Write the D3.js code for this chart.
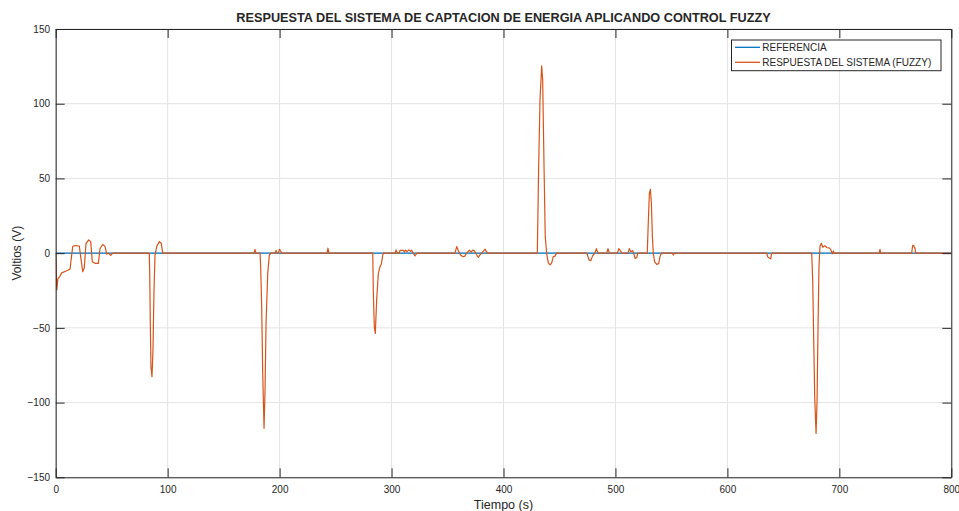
<!DOCTYPE html>
<html>
<head>
<meta charset="utf-8">
<script src="https://cdn.jsdelivr.net/npm/d3@7"></script>
<style>
  html, body { margin: 0; padding: 0; background: #ffffff; }
  svg { display: block; }
  text { font-family: "Liberation Sans", Arial, Helvetica, sans-serif; fill: #262626; }
</style>
</head>
<body>
<svg id="chart" width="959" height="511"></svg>
<script>
// Tiempo (s) y tensión de respuesta del sistema con control fuzzy (V)
const tiempo = [
  0, 1.0, 2.0, 3.8, 5.3, 9.8, 12.8, 14.0, 15.2, 17.2, 21.1, 22.3, 24.1, 25.5, 27.1, 29.5, 31.3, 32.7, 35.1, 38.1,
  39.6, 42, 44, 45.6, 47, 49.1, 51,
  83.6, 84, 84.5, 85.1, 86, 86.9, 87.8, 88.7, 90.2, 92.6, 94.3, 95.6,
  177.2, 178, 178.8,
  182.5, 183.1, 184, 184.9, 186.1, 187, 187.9, 189.4, 190.8, 192,
  196, 196.8, 198, 199, 199.8, 201, 202,
  242.5, 243.2, 244,
  283.2, 283.7, 284.6, 285.5, 286.7, 288.2, 289.7, 290.9, 292.1, 292.7,
  303.2, 304, 305.2, 307, 307.5, 310.5, 311.5, 312.5, 314, 315.5, 317, 318, 319.4, 321, 322.5,
  356.7, 358.2, 360.6, 362, 364.1, 365.5, 367, 369.5, 371, 372.5, 374, 376, 377.5, 379, 380.5, 383.5, 385.5,
  430.2, 431.4, 432.6, 434.1, 435, 436.2, 437.3, 438.6, 440.1, 441.6, 443, 444.5, 446, 447.4,
  474.5, 476.4, 478, 479.5, 481.5, 483, 484.5,
  492.3, 493.3, 494.5,
  501.8, 503, 504.5, 506,
  511.2, 512.4, 513.8, 515.4, 516.3, 517.5, 519, 520,
  528.4, 529.4, 530.3, 531.2, 532.1, 533, 533.8, 535, 536.9, 538.6, 539.8, 541,
  550.8, 551.7, 552.6,
  635.1, 636, 637.4, 638.7, 639.5,
  675.3, 676.2, 677.1, 678, 679.2, 680.1, 681, 681.8, 682.7, 683.9, 685.2, 687, 688.7, 690.8, 692.3, 693.7, 694.6, 695.5,
  735.5, 736.3, 737,
  764.6, 765.5, 766.5, 767.6, 768.2,
  800
];
const respuesta = [
  0, -24.6, -17, -15.5, -13.2, -11.8, -10.8, -3, 4.4, 5.1, 4.8, -2.3, -12.4, -10, 6.6, 8.8, 7.7, -5.7, -6.8, -6.8,
  3.1, 5.8, 4.7, -0.6, 0, -1.5, 0,
  0, -13.5, -47, -76, -82.7, -65, -25, -1.5, 4.4, 7.7, 6.6, 0,
  0, 2.5, 0,
  0, -9, -35.8, -80, -117.2, -91.5, -46.7, -13.5, -1.5, 0,
  0, 1.8, 0, 0, 2.5, 1.3, 0,
  0, 3.3, 0,
  0, -24.8, -49.3, -53.7, -31.3, -13.5, -9, -7.2, -1.5, 0,
  0, 2.2, 0, 0, 1.8, 1.8, 0.8, 2, 1, 2.2, 1.2, 2, 0, -1.9, 0,
  0, 4.4, 0, -1.5, -2.4, -2, 0, 2, 0.7, 2, 1.5, -1.1, -2.9, -1.1, 0, 2.7, 0,
  0, 57.8, 102.5, 125.3, 115.9, 57.8, 11.2, -0.6, -6.7, -7.9, -6.7, -2.3, -2, 0,
  0, -4.5, -5, -2, 0, 3, 0,
  0, 3, 0,
  0, 3, 1.5, 0,
  0, 3, 1, 1.7, 0, -3.5, -3, 0,
  0, 22, 40, 42.7, 33.4, 11, 0, -5.8, -7.5, -7, -2.3, 0,
  0, -1.3, 0,
  0, -2.5, -3.3, -3.9, 0,
  0, -18, -58, -96.2, -120.7, -98.4, -47, -9, 4.4, 6.6, 4, 5, 3.8, 3.5, 2.5, -0.5, 1.5, 0,
  0, 2.5, 0,
  0, 5.3, 5, 3, 0,
  0
];
// Señal de referencia (constante en 0 V)
const tiempoRef = [0, 800];
const referencia = [0, 0];

const xTicks = [0, 100, 200, 300, 400, 500, 600, 700, 800];
const yTicks = [-150, -100, -50, 0, 50, 100, 150];
const serieNombres = ["REFERENCIA", "RESPUESTA DEL SISTEMA (FUZZY)"];
const serieColores = ["#0072BD", "#D95319"];

const titulo = "RESPUESTA DEL SISTEMA DE CAPTACION DE ENERGIA APLICANDO CONTROL FUZZY";
const etiquetaX = "Tiempo (s)";
const etiquetaY = "Voltios (V)";

const margin = { left: 55.7, top: 29, right: 959 - 951.3, bottom: 511 - 477.3 };
const W = 959, H = 511;
const pw = W - margin.left - margin.right;
const ph = H - margin.top - margin.bottom;

const svg = d3.select("#chart");
const x = d3.scaleLinear().domain([0, 800]).range([0, pw]);
const y = d3.scaleLinear().domain([-150, 150]).range([ph, 0]);

const g = svg.append("g").attr("transform", `translate(${margin.left},${margin.top})`);

// Rejilla
const grid = g.append("g").attr("class", "grid");
grid.selectAll("line.gx").data(xTicks).join("line")
  .attr("x1", d => x(d)).attr("x2", d => x(d))
  .attr("y1", 0).attr("y2", ph)
  .attr("stroke", "#e3e3e3").attr("stroke-width", 1);
grid.selectAll("line.gy").data(yTicks).join("line")
  .attr("x1", 0).attr("x2", pw)
  .attr("y1", d => y(d)).attr("y2", d => y(d))
  .attr("stroke", "#e3e3e3").attr("stroke-width", 1);

// Recorte del área de trazado
svg.append("defs").append("clipPath").attr("id", "clip")
  .append("rect").attr("x", 0).attr("y", 0).attr("width", pw).attr("height", ph);

const line = d3.line().x(d => x(d[0])).y(d => y(d[1]));
const plot = g.append("g").attr("clip-path", "url(#clip)");

plot.append("path")
  .datum(tiempoRef.map((t, i) => [t, referencia[i]]))
  .attr("d", line).attr("fill", "none")
  .attr("stroke", serieColores[0]).attr("stroke-width", 1.2);

plot.append("path")
  .datum(tiempo.map((t, i) => [t, respuesta[i]]))
  .attr("d", line).attr("fill", "none")
  .attr("stroke", serieColores[1]).attr("stroke-width", 1.2)
  .attr("stroke-linejoin", "round");

// Ejes (marcas hacia el interior, caja completa)
const tick = 9;
const styleAxis = sel => {
  sel.selectAll("path.domain").attr("stroke", "#262626").attr("stroke-width", 1);
  sel.selectAll(".tick line").attr("stroke", "#262626").attr("stroke-width", 1);
  sel.selectAll(".tick text").attr("fill", "#262626")
    .style("font-family", '"Liberation Sans", Arial, sans-serif').style("font-size", "10px");
};

g.append("g").attr("transform", `translate(0,${ph})`)
  .call(d3.axisBottom(x).tickValues(xTicks).tickSizeInner(-tick).tickSizeOuter(0).tickPadding(8.6))
  .call(styleAxis);
g.append("g")
  .call(d3.axisLeft(y).tickValues(yTicks).tickSizeInner(-tick).tickSizeOuter(0).tickPadding(5.7))
  .call(styleAxis);
g.append("g")
  .call(d3.axisTop(x).tickValues(xTicks).tickSizeInner(-tick).tickSizeOuter(0).tickFormat(""))
  .call(styleAxis);
g.append("g").attr("transform", `translate(${pw},0)`)
  .call(d3.axisRight(y).tickValues(yTicks).tickSizeInner(-tick).tickSizeOuter(0).tickFormat(""))
  .call(styleAxis);

// Título y etiquetas
svg.append("text")
  .attr("x", margin.left + pw / 2).attr("y", 21.5)
  .attr("text-anchor", "middle")
  .style("font-size", "12.7px").style("font-weight", "bold")
  .text(titulo);

svg.append("text")
  .attr("x", margin.left + pw / 2).attr("y", 509)
  .attr("text-anchor", "middle")
  .style("font-size", "12.5px")
  .text(etiquetaX);

svg.append("text")
  .attr("transform", `translate(21,${margin.top + y(0)}) rotate(-90)`)
  .attr("text-anchor", "middle")
  .style("font-size", "12px")
  .text(etiquetaY);

// Leyenda
const leg = svg.append("g").attr("transform", "translate(731.5,40)");
leg.append("rect").attr("width", 209.5).attr("height", 30.7)
  .attr("fill", "#ffffff").attr("stroke", "#262626").attr("stroke-width", 1);
serieNombres.forEach((name, i) => {
  const yy = 7.3 + i * 15;
  leg.append("line").attr("x1", 3.5).attr("x2", 28.5).attr("y1", yy).attr("y2", yy)
    .attr("stroke", serieColores[i]).attr("stroke-width", 1.3);
  leg.append("text").attr("x", 30.8).attr("y", yy + 3.6)
    .style("font-size", "10px").text(name);
});
</script>
</body>
</html>
